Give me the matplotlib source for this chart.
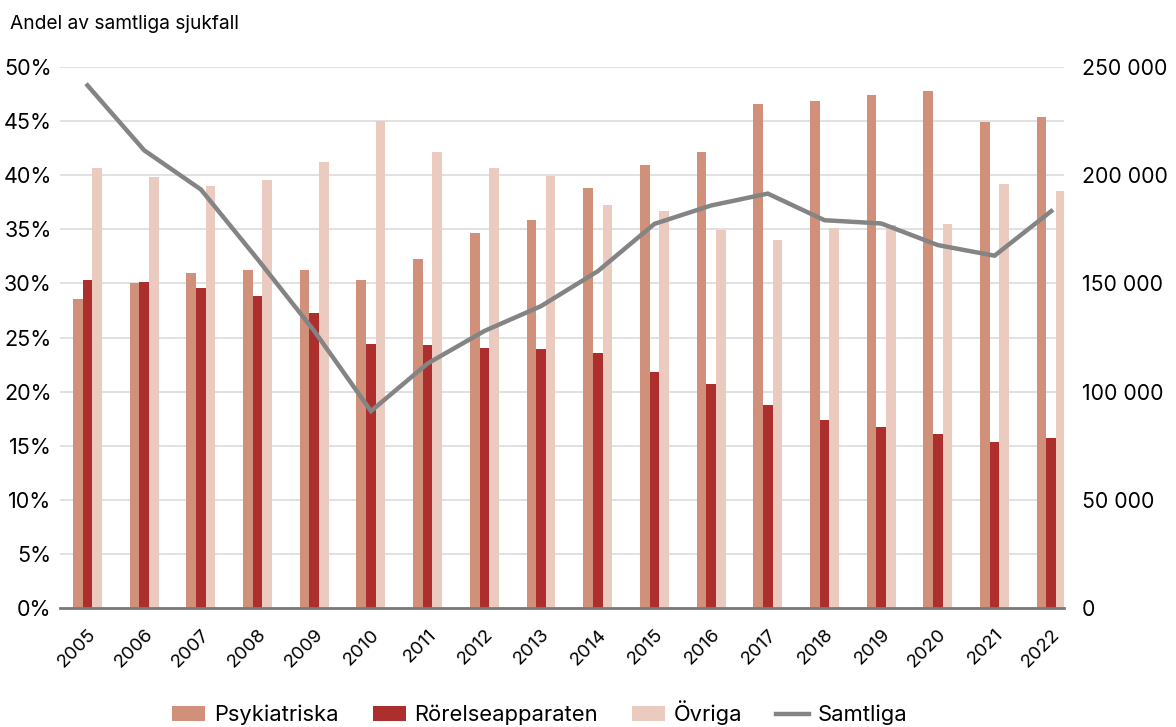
import numpy as np
import matplotlib
matplotlib.use('Agg')
import matplotlib.pyplot as plt
from matplotlib.ticker import FuncFormatter

plt.rcParams['font.family'] = ['Inter', 'DejaVu Sans']

years = [str(y) for y in range(2005, 2023)]
# andel av samtliga sjukfall (%)
psykiatriska = [28.6, 30.0, 31.0, 31.2, 31.2, 30.3, 32.3, 34.7, 35.9, 38.8,
                40.9, 42.1, 46.6, 46.9, 47.4, 47.8, 44.9, 45.4]
rorelse = [30.3, 30.1, 29.6, 28.8, 27.3, 24.4, 24.3, 24.0, 23.9, 23.6,
           21.8, 20.7, 18.8, 17.4, 16.7, 16.1, 15.3, 15.7]
ovriga = [40.7, 39.8, 39.0, 39.6, 41.2, 45.0, 42.1, 40.7, 39.9, 37.2,
          36.7, 34.9, 34.0, 35.1, 35.4, 35.5, 39.2, 38.5]
# antal sjukfall totalt
samtliga = [241500, 211500, 193400, 161200, 128000, 91000, 113000, 128000,
            139500, 155600, 177500, 186000, 191500, 179200, 177700, 167700,
            162800, 183400]

c_psyk = '#D0907A'
c_ror = '#AC2E2D'
c_ovr = '#EBCBC0'
c_line = '#848484'

fig = plt.figure(figsize=(11.76, 7.27), dpi=100)
ax = fig.add_axes([60 / 1176, 1 - 608 / 727, (1064 - 60) / 1176, (608 - 67) / 727])

x = np.arange(len(years))
w = 0.17
b1 = ax.bar(x - w, psykiatriska, w, color=c_psyk, label='Psykiatriska', zorder=2)
b2 = ax.bar(x, rorelse, w, color=c_ror, label='Rörelseapparaten', zorder=2)
b3 = ax.bar(x + w, ovriga, w, color=c_ovr, label='Övriga', zorder=2)

ax.set_ylim(0, 50)
ax.set_xlim(-0.485, 17.225)
ax.set_yticks(np.arange(0, 51, 5))
ax.yaxis.set_major_formatter(FuncFormatter(lambda v, p: f'{v:.0f}%'))
ax.grid(axis='y', color='#DCDCDC', linewidth=1.2, zorder=0)
ax.set_axisbelow(True)
for s in ['top', 'right', 'left']:
    ax.spines[s].set_visible(False)
ax.spines['bottom'].set_color('#7A7A7A')
ax.spines['bottom'].set_linewidth(2)
ax.spines['bottom'].set_zorder(5)
ax.tick_params(axis='y', length=0, pad=6, labelsize=15.5)
ax.tick_params(axis='x', length=0, pad=13, labelsize=13.5)
ax.set_xticks(x)
ax.set_xticklabels(years, rotation=45, ha='right', va='top', rotation_mode='anchor')

ax2 = ax.twinx()
ln, = ax2.plot(x, samtliga, color=c_line, linewidth=3.2, label='Samtliga',
               solid_joinstyle='miter', zorder=4)
ax2.set_ylim(0, 250000)
ax2.set_yticks(np.arange(0, 250001, 50000))
ax2.yaxis.set_major_formatter(FuncFormatter(lambda v, p: f'{int(v):,}'.replace(',', ' ')))
ax2.tick_params(axis='y', length=0, pad=13, labelsize=15.3)
for s in ax2.spines.values():
    s.set_visible(False)

# etikett för vänster axel
fig.text(10 / 1176, 1 - 24 / 727, 'Andel av samtliga sjukfall', fontsize=13.8,
         ha='left', va='center')

fig.legend([b1, b2, b3, ln], ['Psykiatriska', 'Rörelseapparaten', 'Övriga', 'Samtliga'],
           loc='center', bbox_to_anchor=(540 / 1176, 1 - 713 / 727), ncol=4,
           frameon=False, fontsize=15.8, handlelength=1.5, handleheight=0.7,
           handletextpad=0.4, columnspacing=1.55)

fig.savefig('out.png', dpi=100)
